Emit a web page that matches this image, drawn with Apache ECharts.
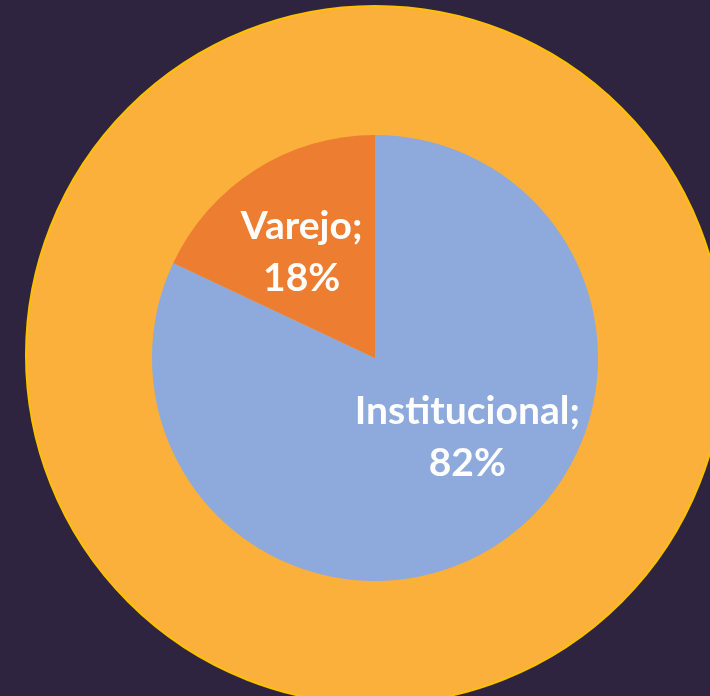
<!DOCTYPE html>
<html><head><meta charset="utf-8">
<script src="https://cdn.jsdelivr.net/npm/echarts@6/dist/echarts.min.js"></script>
<style>html,body{margin:0;padding:0;background:#2E2440;}#c{width:710px;height:696px;}</style>
</head><body><div id="c"></div>
<script>
const categories = ['Institucional', 'Varejo'];
const values = [82, 18];
const sliceColors = ['#8EA9DB', '#ED7D31'];
const ringValue = [100];

const chart = echarts.init(document.getElementById('c'), null, {renderer: 'canvas'});
const offsets = [[31, -17], [-12, -9]];
chart.setOption({
  backgroundColor: '#2E2440',
  animation: false,
  series: [
    {
      type: 'pie', silent: true, z: 1,
      center: [375, 355], radius: [0, 349],
      label: {show: false}, labelLine: {show: false},
      itemStyle: {color: '#FBB03B', borderColor: '#FFC000', borderWidth: 2},
      data: ringValue.map(v => ({value: v}))
    },
    {
      type: 'pie', silent: true, z: 2,
      center: [375, 358], radius: [0, 223],
      startAngle: 90, clockwise: true,
      itemStyle: {borderWidth: 0},
      label: {
        show: true, position: 'inside',
        formatter: p => p.name + ';\n' + p.value + '%',
        color: '#FFFFFF', fontFamily: 'Lato', fontWeight: 'bold', fontSize: 39,
        lineHeight: 52, align: 'center'
      },
      labelLine: {show: false},
      labelLayout: p => ({dx: offsets[p.dataIndex][0], dy: offsets[p.dataIndex][1]}),
      data: categories.map((c, i) => ({name: c, value: values[i], itemStyle: {color: sliceColors[i]}}))
    }
  ]
});
</script></body></html>
